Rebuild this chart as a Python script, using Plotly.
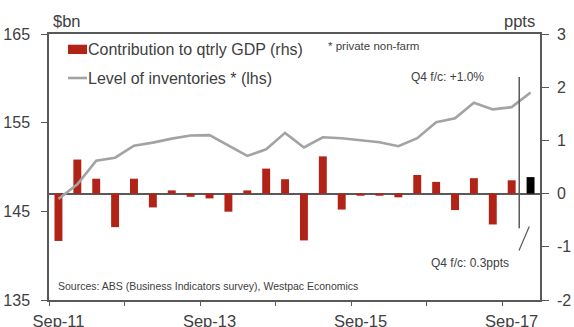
import plotly.graph_objects as go

# ---- data -------------------------------------------------------------
quarters = ["Sep-11", "Dec-11", "Mar-12", "Jun-12", "Sep-12", "Dec-12",
            "Mar-13", "Jun-13", "Sep-13", "Dec-13", "Mar-14", "Jun-14",
            "Sep-14", "Dec-14", "Mar-15", "Jun-15", "Sep-15", "Dec-15",
            "Mar-16", "Jun-16", "Sep-16", "Dec-16", "Mar-17", "Jun-17",
            "Sep-17", "Dec-17"]
contribution_ppts = [-0.89, 0.64, 0.28, -0.63, 0.28, -0.26, 0.06, -0.06,
                     -0.09, -0.34, 0.06, 0.47, 0.27, -0.88, 0.70, -0.30,
                     -0.04, -0.04, -0.07, 0.35, 0.22, -0.31, 0.29, -0.58,
                     0.25, 0.31]
inventories_bn = [146.4, 148.05, 150.7, 151.05, 152.4, 152.75, 153.2, 153.55,
                  153.6, 152.45, 151.25, 152.0, 153.85, 152.2, 153.35, 153.25,
                  153.05, 152.8, 152.35, 153.25, 155.05, 155.5, 157.25, 156.5,
                  156.75, 158.4]
is_forecast = [False] * 25 + [True]
xtick_labels = ["Sep-11", "Sep-13", "Sep-15", "Sep-17"]
left_ticks = [135, 145, 155, 165]
right_ticks = [-2, -1, 0, 1, 2, 3]

# ---- styling ----------------------------------------------------------
FONT = "Liberation Sans, Arial, sans-serif"
TXT = "#404040"
AX = "#595959"
RED = "#B22317"
GREY = "#A3A3A3"

W, H = 574, 327
L, R, T, B = 49, 34, 34, 27
pw, ph = W - L - R, H - T - B


def px(xp):
    return (xp - L) / pw


def py(yp):
    return (H - B - yp) / ph


xs = list(range(len(quarters)))
bar_colors = ["#000000" if f else RED for f in is_forecast]

fig = go.Figure()
fig.add_trace(go.Bar(x=xs, y=contribution_ppts, marker_color=bar_colors,
                     marker_line_width=0, yaxis="y", name="Contribution to qtrly GDP (rhs)"))
fig.add_trace(go.Scatter(x=xs, y=inventories_bn, mode="lines",
                         line=dict(color=GREY, width=2.6), yaxis="y2",
                         name="Level of inventories * (lhs)"))

boundaries = [i - 0.5 for i in range(0, len(quarters), 4)]
label_pos = [quarters.index(q) for q in xtick_labels]

fig.update_layout(
    width=W, height=H,
    margin=dict(l=L, r=R, t=T, b=B, pad=0, autoexpand=False),
    paper_bgcolor="white", plot_bgcolor="white",
    showlegend=False,
    bargap=0.58,
    font=dict(family=FONT, color=TXT, size=16),
    xaxis=dict(range=[-0.5, len(quarters) - 0.5], tickvals=label_pos,
               ticktext=xtick_labels, ticks="outside", ticklen=0,
               tickcolor="rgba(0,0,0,0)", ticklabelstandoff=5,
               showline=True, linecolor=AX, linewidth=1.5, mirror=True,
               showgrid=False, zeroline=False, automargin=False,
               tickfont=dict(size=16.5, color=TXT),
               minor=dict(tickvals=boundaries, ticks="outside", ticklen=4,
                          tickcolor=AX, tickwidth=1.3, showgrid=False)),
    yaxis=dict(side="right", range=[-2, 3], tickvals=right_ticks,
               ticktext=[str(v) for v in right_ticks],
               ticks="outside", ticklen=7, tickcolor=AX, tickwidth=1.3,
               ticklabelstandoff=5, automargin=False,
               showline=True, linecolor=AX, linewidth=1.5,
               showgrid=False, zeroline=True, zerolinecolor=AX, zerolinewidth=1.5,
               tickfont=dict(size=16, color=TXT)),
    yaxis2=dict(side="left", overlaying="y", range=[135, 165], tickvals=left_ticks,
                ticktext=[str(v) for v in left_ticks],
                ticks="outside", ticklen=6, tickcolor=AX, tickwidth=1.3,
                ticklabelstandoff=8, automargin=False,
                showline=True, linecolor=AX, linewidth=1.5,
                showgrid=False, zeroline=False,
                tickfont=dict(size=16, color=TXT)),
)

# forecast divider and pointer (data coordinates of the ppts axis)
fig.add_shape(type="line", xref="x", yref="y", x0=24.4, x1=24.4, y0=2.19, y1=-0.65,
              line=dict(color=AX, width=1.5))
fig.add_shape(type="line", xref="x", yref="y", x0=24.93, x1=24.39, y0=-0.62, y1=-1.07,
              line=dict(color=AX, width=1.2))

# manual legend
fig.add_shape(type="rect", xref="paper", yref="paper",
              x0=px(68), x1=px(87), y0=py(54), y1=py(44.7),
              fillcolor=RED, line=dict(width=0))
fig.add_shape(type="line", xref="paper", yref="paper",
              x0=px(68), x1=px(87), y0=py(78), y1=py(78),
              line=dict(color=GREY, width=2.6))

annos = [
    ("Contribution to qtrly GDP (rhs)", 86, 49.5, "left", 16),
    ("Level of inventories * (lhs)", 86, 78, "left", 16),
    ("$bn", 51, 20.5, "left", 16.5),
    ("ppts", 537, 20.5, "right", 16.5),
    ("* private non-farm", 326, 46, "left", 11.5),
    ("Q4 f/c: +1.0%", 486, 77, "right", 12),
    ("Q4 f/c: 0.3ppts", 511, 262.5, "right", 12),
    ("Sources: ABS (Business Indicators survey), Westpac Economics", 56, 286, "left", 10.5),
]
for text, xp, yp, anchor, size in annos:
    fig.add_annotation(text=text, xref="paper", yref="paper", x=px(xp), y=py(yp),
                       xanchor=anchor, yanchor="middle", showarrow=False,
                       font=dict(family=FONT, size=size, color=TXT))

fig.write_html("out.html")
